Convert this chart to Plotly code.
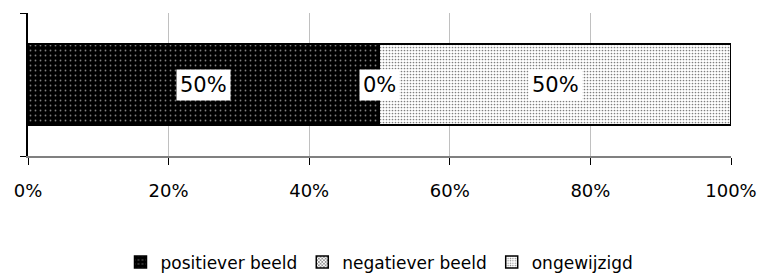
import plotly.graph_objects as go

categories = [""]
series_names = ["positiever beeld", "negatiever beeld", "ongewijzigd"]
series_values = [[0.50], [0.00], [0.50]]
label_texts = ["50%", "0%", "50%"]
x_ticks = [0, 0.2, 0.4, 0.6, 0.8, 1.0]
x_tick_labels = ["0%", "20%", "40%", "60%", "80%", "100%"]

patterns = [
    dict(shape=".", bgcolor="black", fgcolor="white", size=5, solidity=0.1),
    dict(shape="x", bgcolor="white", fgcolor="black", size=3, solidity=0.5),
    dict(shape=".", bgcolor="white", fgcolor="black", size=3, solidity=0.25),
]

fig = go.Figure()
for name, vals, pat in zip(series_names, series_values, patterns):
    fig.add_trace(go.Bar(
        y=[0], x=vals, name=name, orientation="h", width=0.567,
        marker=dict(color=pat["bgcolor"], pattern=pat,
                    line=dict(color="black", width=1.5)),
    ))

cum = 0.0
for vals, txt in zip(series_values, label_texts):
    v = vals[0]
    fig.add_annotation(x=cum + v / 2, y=0, text=txt, showarrow=False,
                       bgcolor="white", borderpad=3,
                       font=dict(family="DejaVu Sans", size=21, color="black"))
    cum += v

fig.update_layout(
    barmode="stack",
    width=762, height=276,
    margin=dict(l=28, r=31, t=13, b=120, autoexpand=False),
    paper_bgcolor="white", plot_bgcolor="white",
    showlegend=True,
    legend=dict(orientation="h", x=0.5, xanchor="center", y=-0.87, yanchor="bottom",
                font=dict(family="DejaVu Sans", size=17, color="black"),
                itemwidth=30, traceorder="normal", tracegroupgap=0),
    xaxis=dict(range=[0, 1], tickvals=x_ticks, ticktext=x_tick_labels,
               showgrid=True, gridcolor="#c0c0c0", gridwidth=1,
               showline=True, linecolor="#808080", linewidth=2,
               ticks="outside", ticklen=7, tickcolor="black",
               ticklabelstandoff=10, automargin=False,
               tickfont=dict(family="DejaVu Sans", size=18, color="black"),
               zeroline=False, fixedrange=True),
    yaxis=dict(range=[-0.5, 0.5], tickvals=[-0.5, 0.5], showticklabels=False,
               showgrid=True, gridcolor="#d0d0d0", automargin=False,
               showline=True, linecolor="black", linewidth=1.5,
               ticks="outside", ticklen=6, tickcolor="black",
               zeroline=False, fixedrange=True),
)

fig.write_html("out.html",
               config={"displayModeBar": False},
               post_script="document.body.style.margin='0';document.body.style.overflow='hidden';")
